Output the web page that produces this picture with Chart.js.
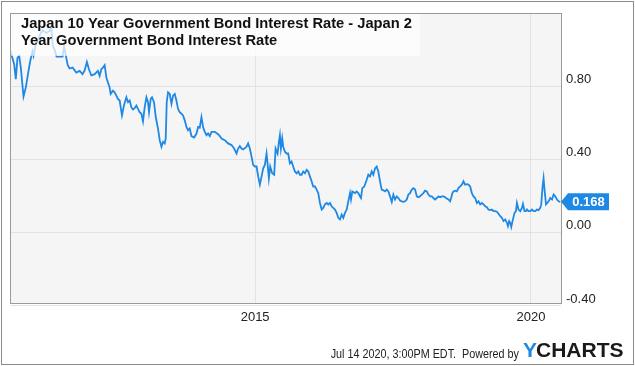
<!DOCTYPE html>
<html><head><meta charset="utf-8">
<script src="https://cdn.jsdelivr.net/npm/chart.js@4.4.1/dist/chart.umd.min.js"></script>
<style>html,body{margin:0;padding:0;background:#fff;}canvas{display:block;}</style>
</head><body>
<canvas id="c" width="635" height="366"></canvas>
<script>
// Decimal-year dates and spread values (percentage points)
const dates = [
2010.565,2010.632,2010.661,2010.692,2010.723,2010.752,2010.801,2010.843,2010.886,2010.923,
2010.965,2010.983,2011.024,2011.092,2011.146,2011.213,2011.273,2011.304,2011.333,2011.364,
2011.400,2011.455,2011.509,2011.536,2011.576,2011.600,2011.636,2011.691,2011.758,2011.818,
2011.872,2011.909,2011.950,2011.987,2012.030,2012.090,2012.150,2012.181,2012.212,2012.241,
2012.272,2012.303,2012.332,2012.362,2012.381,2012.422,2012.453,2012.484,2012.513,2012.544,
2012.586,2012.622,2012.666,2012.695,2012.726,2012.756,2012.785,2012.816,2012.847,2012.876,
2012.907,2012.938,2012.967,2012.998,2013.029,2013.058,2013.076,2013.107,2013.130,2013.167,
2013.198,2013.239,2013.270,2013.301,2013.330,2013.361,2013.379,2013.397,2013.421,2013.452,
2013.483,2013.512,2013.543,2013.573,2013.602,2013.633,2013.664,2013.693,2013.724,2013.755,
2013.784,2013.815,2013.846,2013.893,2013.937,2013.966,2013.996,2014.027,2014.056,2014.087,
2014.118,2014.147,2014.178,2014.209,2014.269,2014.329,2014.359,2014.390,2014.450,2014.481,
2014.510,2014.572,2014.619,2014.663,2014.692,2014.723,2014.753,2014.783,2014.844,2014.873,
2014.904,2014.935,2014.964,2014.995,2015.026,2015.055,2015.086,2015.117,2015.146,2015.176,
2015.207,2015.225,2015.249,2015.273,2015.309,2015.345,2015.371,2015.407,2015.431,2015.449,
2015.467,2015.491,2015.509,2015.540,2015.570,2015.599,2015.630,2015.661,2015.690,2015.721,
2015.752,2015.781,2015.812,2015.843,2015.872,2015.903,2015.934,2015.963,2015.993,2016.024,
2016.053,2016.084,2016.115,2016.144,2016.175,2016.206,2016.235,2016.266,2016.297,2016.326,
2016.357,2016.387,2016.416,2016.447,2016.478,2016.507,2016.538,2016.569,2016.598,2016.629,
2016.660,2016.689,2016.720,2016.738,2016.761,2016.810,2016.841,2016.870,2016.901,2016.919,
2016.943,2016.979,2017.023,2017.052,2017.083,2017.114,2017.143,2017.174,2017.204,2017.233,
2017.264,2017.295,2017.324,2017.355,2017.386,2017.415,2017.446,2017.477,2017.506,2017.537,
2017.567,2017.597,2017.627,2017.658,2017.687,2017.718,2017.749,2017.778,2017.809,2017.840,
2017.869,2017.900,2017.931,2017.960,2017.990,2018.021,2018.050,2018.081,2018.112,2018.141,
2018.172,2018.203,2018.232,2018.263,2018.294,2018.323,2018.354,2018.384,2018.414,2018.444,
2018.475,2018.504,2018.535,2018.553,2018.577,2018.595,2018.626,2018.657,2018.686,2018.717,
2018.748,2018.777,2018.807,2018.838,2018.867,2018.898,2018.929,2018.958,2018.989,2019.020,
2019.049,2019.080,2019.111,2019.140,2019.171,2019.201,2019.230,2019.261,2019.292,2019.321,
2019.352,2019.383,2019.412,2019.443,2019.474,2019.503,2019.534,2019.565,2019.583,2019.606,
2019.624,2019.643,2019.666,2019.703,2019.728,2019.746,2019.775,2019.806,2019.837,2019.855,
2019.884,2019.910,2019.928,2019.957,2019.988,2020.018,2020.048,2020.078,2020.109,2020.138,
2020.169,2020.187,2020.211,2020.229,2020.247,2020.273,2020.296,2020.320,2020.351,2020.382,
2020.411,2020.441,2020.472,2020.501,2020.532
];
const values = [
0.991,0.919,0.838,0.955,0.964,0.901,0.743,0.793,0.874,0.937,
0.991,0.966,1.027,1.074,1.106,1.090,1.101,1.117,1.020,0.998,
0.961,0.961,0.961,1.020,0.955,0.917,0.896,0.901,0.874,0.883,
0.865,0.885,0.932,0.892,0.858,0.865,0.883,0.856,0.892,0.901,
0.914,0.847,0.820,0.793,0.757,0.775,0.766,0.748,0.730,0.721,
0.640,0.694,0.739,0.712,0.721,0.685,0.672,0.679,0.694,0.676,
0.658,0.649,0.608,0.685,0.739,0.712,0.658,0.730,0.739,0.712,
0.631,0.568,0.505,0.469,0.496,0.487,0.514,0.712,0.766,0.757,
0.703,0.748,0.757,0.721,0.676,0.658,0.649,0.640,0.613,0.577,
0.559,0.568,0.527,0.519,0.541,0.577,0.573,0.631,0.577,0.550,
0.532,0.541,0.527,0.550,0.550,0.537,0.527,0.514,0.505,0.496,
0.487,0.478,0.459,0.432,0.459,0.472,0.459,0.454,0.469,0.487,
0.459,0.415,0.370,0.361,0.361,0.307,0.262,0.307,0.351,0.370,
0.432,0.378,0.297,0.361,0.324,0.316,0.459,0.432,0.496,0.532,
0.459,0.514,0.469,0.442,0.432,0.432,0.378,0.388,0.361,0.334,
0.324,0.334,0.316,0.316,0.334,0.324,0.343,0.334,0.307,0.280,
0.252,0.252,0.235,0.216,0.162,0.126,0.135,0.154,0.162,0.154,
0.162,0.144,0.135,0.126,0.108,0.081,0.072,0.099,0.081,0.108,
0.126,0.171,0.216,0.181,0.225,0.216,0.225,0.216,0.198,0.189,
0.243,0.252,0.289,0.316,0.307,0.334,0.316,0.351,0.361,0.334,
0.280,0.235,0.231,0.225,0.235,0.225,0.198,0.168,0.208,0.181,
0.198,0.189,0.175,0.171,0.168,0.171,0.181,0.208,0.216,0.235,
0.243,0.235,0.198,0.193,0.198,0.208,0.216,0.229,0.225,0.208,
0.198,0.198,0.189,0.181,0.189,0.198,0.193,0.198,0.198,0.193,
0.186,0.181,0.171,0.189,0.216,0.225,0.229,0.225,0.243,0.252,
0.262,0.280,0.262,0.265,0.262,0.252,0.216,0.198,0.189,0.162,
0.171,0.154,0.162,0.154,0.144,0.139,0.126,0.123,0.126,0.117,
0.117,0.114,0.103,0.090,0.081,0.063,0.072,0.054,0.036,0.063,
0.054,0.031,0.063,0.108,0.117,0.162,0.126,0.117,0.135,0.157,
0.117,0.117,0.126,0.117,0.117,0.126,0.117,0.117,0.126,0.123,
0.135,0.154,0.252,0.297,0.235,0.154,0.162,0.171,0.189,0.181,
0.208,0.198,0.181,0.171,0.168
];
const xTickValues = [2015, 2020];
const yTickValues = [-0.4, 0, 0.4, 0.8];
const titleLines = ["Japan 10 Year Government Bond Interest Rate - Japan 2", "Year Government Bond Interest Rate"];
const footerText = "Jul 14 2020, 3:00PM EDT.  Powered by";
const lastValueLabel = "0.168";

const LINE = '#1e88e5';
const FONT = '"Liberation Sans", Arial, sans-serif';

const deco = {
  id: 'deco',
  beforeDraw(chart) {
    const {ctx, chartArea: a} = chart;
    ctx.save();
    ctx.fillStyle = '#ffffff';
    ctx.fillRect(0, 0, chart.width, chart.height);
    ctx.fillStyle = '#f5f5f5';
    ctx.fillRect(a.left, a.top, a.right - a.left, a.bottom - a.top);
    ctx.restore();
  },
  afterDatasetsDraw(chart) {
    const {ctx, chartArea: a} = chart;
    ctx.save();
    ctx.fillStyle = 'rgba(255,255,255,0.72)';
    ctx.fillRect(a.left, a.top, 410, 43);
    ctx.fillStyle = '#111';
    ctx.font = 'bold 14.7px ' + FONT;
    ctx.textBaseline = 'middle';
    ctx.textAlign = 'left';
    ctx.fillText(titleLines[0], 21, 24);
    ctx.fillText(titleLines[1], 21, 41);
    ctx.restore();
  },
  afterDraw(chart) {
    const {ctx, chartArea: a} = chart;
    ctx.save();
    // plot frame
    ctx.strokeStyle = '#9a9a9a';
    ctx.lineWidth = 1;
    ctx.strokeRect(Math.round(a.left) + 0.5, Math.round(a.top) + 0.5,
                   Math.round(a.right - a.left), Math.round(a.bottom - a.top));
    // outer frame
    ctx.strokeStyle = '#8a8a8a';
    ctx.strokeRect(1.5, 1.5, chart.width - 3, chart.height - 3);
    // last value flag
    const y = chart.scales.y.getPixelForValue(values[values.length - 1]);
    const x0 = a.right;
    ctx.fillStyle = LINE;
    ctx.beginPath();
    ctx.moveTo(x0, y);
    ctx.lineTo(x0 + 7, y - 8.5);
    ctx.lineTo(x0 + 48, y - 8.5);
    ctx.lineTo(x0 + 48, y + 8.5);
    ctx.lineTo(x0 + 7, y + 8.5);
    ctx.closePath();
    ctx.fill();
    ctx.fillStyle = '#fff';
    ctx.font = 'bold 13px ' + FONT;
    ctx.textAlign = 'center';
    ctx.textBaseline = 'middle';
    ctx.fillText(lastValueLabel, x0 + 27.5, y + 0.5);
    // footer (condensed text, like the reference)
    ctx.save();
    ctx.translate(519, 358);
    ctx.scale(0.83, 1);
    ctx.textBaseline = 'alphabetic';
    ctx.textAlign = 'right';
    ctx.fillStyle = '#222';
    ctx.font = '13px ' + FONT;
    ctx.fillText(footerText, 0, 0);
    ctx.restore();
    // logo
    ctx.textBaseline = 'alphabetic';
    ctx.textAlign = 'left';
    ctx.font = 'bold 21px ' + FONT;
    ctx.fillStyle = LINE;
    ctx.fillText('Y', 523, 357);
    const yw = ctx.measureText('Y').width;
    ctx.fillStyle = '#1a1a1a';
    ctx.fillText('CHARTS', 523 + yw - 1, 357);
    ctx.restore();
  }
};

new Chart(document.getElementById('c'), {
  type: 'line',
  data: {
    datasets: [{
      data: dates.map((d, i) => ({x: d, y: values[i]})),
      borderColor: LINE,
      borderWidth: 1.8,
      pointRadius: 0,
      tension: 0,
      fill: false
    }]
  },
  options: {
    responsive: false,
    animation: false,
    events: [],
    layout: {padding: {left: 10, top: 10, right: 0, bottom: 0}},
    plugins: {legend: {display: false}, tooltip: {enabled: false}, title: {display: false}},
    scales: {
      x: {
        type: 'linear',
        min: 2010.556,
        max: 2020.545,
        afterBuildTicks: s => { s.ticks = xTickValues.map(v => ({value: v})); },
        afterFit: s => { s.height = 63; },
        grid: {color: '#e2e2e2', drawTicks: false},
        border: {display: false},
        ticks: {
          callback: v => String(v),
          color: '#222',
          font: {family: FONT, size: 13},
          padding: 7,
          maxRotation: 0,
          autoSkip: false
        }
      },
      y: {
        position: 'right',
        min: -0.384,
        max: 1.2,
        afterBuildTicks: s => { s.ticks = yTickValues.map(v => ({value: v})); },
        afterFit: s => { s.width = 74; },
        grid: {color: '#e2e2e2', drawTicks: false},
        border: {display: false},
        ticks: {
          callback: v => v.toFixed(2),
          color: '#222',
          font: {family: FONT, size: 13},
          padding: 5,
          labelOffset: -7
        }
      }
    }
  },
  plugins: [deco]
});
</script>
</body></html>
